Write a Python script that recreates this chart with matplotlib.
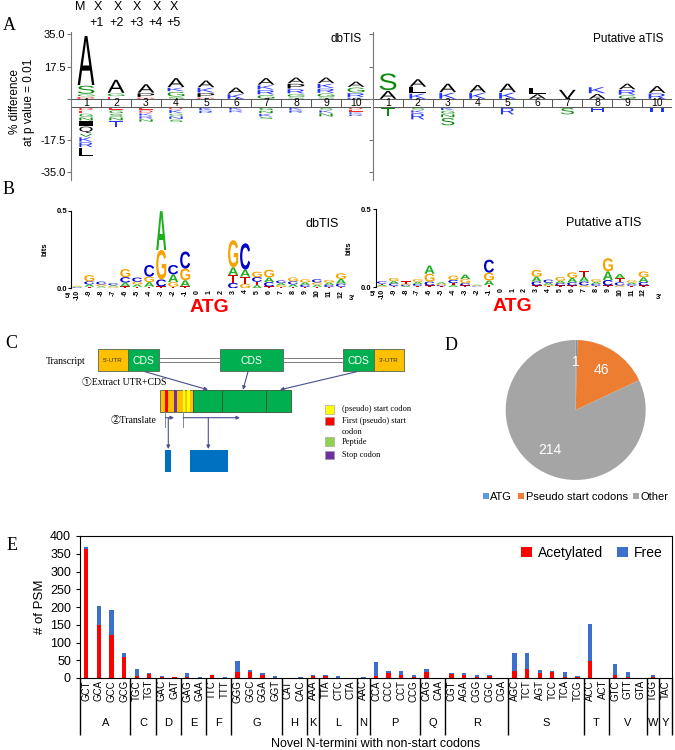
"""Five-panel figure: iceLogo (A), bit logos (B), pipeline sketch (C), pie (D), PSM bars (E)."""
import matplotlib
matplotlib.use("Agg")
import matplotlib.pyplot as plt
import numpy as np
from matplotlib.font_manager import FontProperties
from matplotlib.patches import PathPatch, Rectangle
from matplotlib.textpath import TextPath
from matplotlib.transforms import Affine2D, blended_transform_factory

W, H = 675, 750
plt.rcParams["font.family"] = ["Liberation Sans", "DejaVu Sans"]
SERIF = ["Liberation Serif", "Noto Sans CJK JP", "DejaVu Sans"]

# ---------------- A: % difference per position (bottom->top above, top->bottom below)
AA_COL = {"k": "#000000", "g": "#0a8a0a", "b": "#2233ff", "r": "#ff2a2a"}
DBTIS_UP = [
    [("D", 0.9, "r"), ("G", 1.0, "g"), ("S", 4.3, "g"), ("A", 26.4, "k")],
    [("E", 1.0, "r"), ("G", 1.4, "g"), ("A", 7.0, "k")],
    [("D", 0.6, "r"), ("P", 1.9, "k"), ("A", 4.5, "k")],
    [("S", 0.8, "g"), ("G", 2.5, "g"), ("K", 1.8, "b"), ("A", 4.8, "k")],
    [("D", 0.6, "r"), ("P", 2.0, "k"), ("K", 2.4, "b"), ("A", 3.6, "k")],
    [("K", 2.4, "b"), ("A", 3.2, "k")],
    [("G", 2.0, "g"), ("R", 2.2, "b"), ("K", 2.2, "b"), ("A", 3.5, "k")],
    [("S", 0.6, "g"), ("G", 1.5, "g"), ("R", 2.2, "b"), ("P", 2.5, "k"), ("A", 3.0, "k")],
    [("S", 0.6, "g"), ("G", 1.8, "g"), ("R", 2.2, "b"), ("K", 2.2, "b"), ("A", 3.0, "k")],
    [("K", 0.6, "b"), ("R", 2.0, "b"), ("G", 2.6, "g"), ("A", 2.8, "k")],
]
DBTIS_DOWN = [
    [("D", 1.2, "r"), ("E", 1.2, "r"), ("G", 1.6, "g"), ("N", 1.6, "g"), ("I", 2.5, "k"),
     ("Q", 3.5, "k"), ("V", 1.5, "g"), ("K", 2.3, "b"), ("R", 2.5, "b"), ("L", 4.5, "k")],
    [("E", 1.0, "r"), ("G", 1.5, "g"), ("S", 1.5, "g"), ("N", 1.5, "g"), ("T", 3.0, "b")],
    [("E", 1.0, "r"), ("D", 1.2, "r"), ("K", 1.2, "b"), ("R", 1.2, "b"), ("N", 1.2, "g")],
    [("D", 0.8, "r"), ("K", 1.6, "b"), ("G", 1.0, "g"), ("N", 1.4, "b"), ("S", 1.2, "g")],
    [("K", 1.2, "b"), ("R", 1.2, "b")],
    [("K", 1.0, "b"), ("R", 1.0, "b")],
    [("G", 1.2, "g"), ("N", 1.2, "g"), ("K", 1.4, "b"), ("S", 1.0, "g")],
    [("K", 1.0, "b"), ("R", 1.2, "b")],
    [("S", 1.0, "g"), ("K", 1.2, "b"), ("N", 1.6, "g")],
    [("D", 0.8, "r"), ("E", 0.8, "r"), ("K", 0.8, "b"), ("R", 0.8, "b")],
]
ATIS_UP = [
    [("A", 4.2, "k"), ("S", 9.0, "g")],
    [("K", 2.7, "b"), ("L", 3.0, "k"), ("A", 4.0, "k")],
    [("K", 3.2, "b"), ("A", 4.5, "k")],
    [("K", 3.0, "b"), ("A", 4.0, "k")],
    [("K", 3.2, "b"), ("A", 4.5, "k")],
    [("A", 2.4, "k"), ("L", 3.2, "k")],
    [("V", 4.8, "k")],
    [("A", 2.6, "k"), ("K", 3.2, "b")],
    [("G", 1.8, "g"), ("R", 2.5, "b"), ("A", 3.0, "k")],
    [("R", 2.8, "b"), ("A", 3.6, "k")],
]
ATIS_DOWN = [
    [("T", 4.5, "g")],
    [("S", 1.0, "g"), ("K", 1.2, "b"), ("R", 3.2, "b")],
    [("K", 1.2, "b"), ("G", 1.5, "g"), ("N", 1.5, "g"), ("S", 4.0, "g")],
    [],
    [("R", 3.5, "b")],
    [],
    [("S", 3.5, "g")],
    [("H", 2.0, "b")],
    [],
    [("H", 2.2, "b")],
]

# ---------------- B: information content (bits), bottom->top per position -10..12
NT_COL = {"A": "#1fae1f", "C": "#0000c8", "G": "#f5a300", "T": "#d40000"}
LOGO_POS = list(range(-10, 13))
DBTIS_BITS = [
    [("T", .003), ("C", .004), ("A", .004), ("G", .005)],
    [("T", .010), ("A", .015), ("C", .020), ("G", .040)],
    [("T", .005), ("A", .008), ("G", .012), ("C", .018)],
    [("T", .004), ("G", .008), ("A", .008), ("C", .012)],
    [("T", .012), ("A", .025), ("C", .035), ("G", .052)],
    [("T", .010), ("A", .015), ("G", .017), ("C", .027)],
    [("T", .010), ("A", .030), ("G", .035), ("C", .075)],
    [("T", .012), ("C", .045), ("G", .190), ("A", .250)],
    [("T", .010), ("G", .030), ("A", .050), ("C", .060)],
    [("T", .012), ("A", .040), ("G", .075), ("C", .110)],
    [], [], [],
    [("C", .035), ("T", .050), ("A", .050), ("G", .175)],
    [("G", .030), ("T", .045), ("A", .045), ("C", .170)],
    [("A", .020), ("T", .022), ("C", .030), ("G", .035)],
    [("T", .012), ("C", .028), ("A", .030), ("G", .050)],
    [("T", .008), ("G", .012), ("A", .013), ("C", .017)],
    [("T", .010), ("A", .015), ("C", .020), ("G", .025)],
    [("T", .008), ("C", .015), ("A", .015), ("G", .020)],
    [("T", .010), ("A", .013), ("G", .015), ("C", .020)],
    [("T", .008), ("C", .014), ("A", .015), ("G", .017)],
    [("T", .010), ("C", .020), ("A", .030), ("G", .037)],
]
ATIS_BITS = [
    [("G", .006), ("A", .008), ("T", .008), ("C", .014)],
    [("T", .008), ("C", .015), ("A", .015), ("G", .020)],
    [("A", .006), ("C", .008), ("G", .008), ("T", .014)],
    [("T", .008), ("C", .012), ("A", .013), ("G", .017)],
    [("T", .010), ("C", .025), ("G", .050), ("A", .052)],
    [("T", .005), ("C", .007), ("G", .008), ("A", .010)],
    [("A", .012), ("T", .013), ("C", .020), ("G", .028)],
    [("T", .010), ("C", .015), ("G", .025), ("A", .030)],
    [("T", .003), ("C", .004), ("G", .004), ("A", .004)],
    [("T", .012), ("A", .030), ("G", .050), ("C", .083)],
    [], [], [],
    [("T", .010), ("C", .025), ("A", .030), ("G", .045)],
    [("T", .006), ("G", .008), ("A", .013), ("C", .020)],
    [("T", .010), ("C", .015), ("A", .015), ("G", .024)],
    [("T", .010), ("C", .020), ("A", .028), ("G", .036)],
    [("G", .010), ("C", .025), ("A", .030), ("T", .035)],
    [("T", .008), ("C", .012), ("A", .012), ("G", .018)],
    [("T", .010), ("C", .035), ("A", .055), ("G", .085)],
    [("G", .010), ("C", .020), ("T", .025), ("A", .028)],
    [("T", .008), ("C", .010), ("A", .010), ("G", .015)],
    [("T", .010), ("C", .022), ("A", .030), ("G", .038)],
]

# ---------------- D: pie
PIE_LABELS = ["ATG", "Pseudo start codons", "Other"]
PIE_VALUES = [1, 46, 214]
PIE_COLORS = ["#5b9bd5", "#ed7d31", "#a5a5a5"]

# ---------------- E: PSMs per codon
CODONS = ["GCT", "GCA", "GCC", "GCG", "TGC", "TGT", "GAC", "GAT", "GAG", "GAA", "TTC", "TTT",
          "GGG", "GGC", "GGA", "GGT", "CAT", "CAC", "AAA", "TTA", "CTC", "CTA", "AAC",
          "CCA", "CCC", "CCT", "CCG", "CAG", "CAA", "CGT", "AGA", "CGG", "CGC", "CGA",
          "AGC", "TCT", "AGT", "TCC", "TCA", "TCG", "ACC", "ACT", "GTC", "GTT", "GTA",
          "TGG", "TAC"]
ACETYL = [362, 150, 122, 59, 5, 10, 3, 4, 3, 0, 8, 0, 16, 16, 8, 0, 0, 0, 5, 5, 0, 0, 0,
          5, 15, 8, 4, 16, 0, 10, 8, 4, 7, 0, 20, 24, 14, 16, 2, 3, 47, 0, 8, 2, 0, 4, 0]
FREE = [8, 53, 70, 11, 19, 4, 2, 0, 11, 4, 1, 4, 31, 6, 6, 5, 0, 4, 3, 3, 5, 0, 3,
        41, 6, 13, 4, 9, 0, 5, 6, 5, 1, 0, 50, 46, 8, 3, 14, 2, 104, 0, 32, 14, 0, 4, 0]
AMINO = ["A", "C", "D", "E", "F", "G", "H", "K", "L", "N", "P", "Q", "R", "S", "T", "V", "W", "Y"]
GROUP_SIZES = [4, 2, 2, 2, 2, 4, 2, 1, 3, 1, 4, 2, 5, 6, 2, 3, 1, 1]


def frame(x0, y0, x1, y1):
    """Pixel box (top-left origin) -> figure fraction rect."""
    return [x0 / W, 1 - y1 / H, (x1 - x0) / W, (y1 - y0) / H]


def glyph(ax, ch, x, y, w, h, color, fp):
    if h <= 0:
        return
    tp = TextPath((0, 0), ch, size=1, prop=fp)
    bb = tp.get_extents()
    t = (Affine2D().translate(-bb.x0, -bb.y0)
         .scale(w / bb.width, h / bb.height).translate(x, y))
    ax.add_patch(PathPatch(t.transform_path(tp), fc=color, ec="none", lw=0))


fig = plt.figure(figsize=(W / 100, H / 100), dpi=100)
canvas = fig.add_axes([0, 0, 1, 1])
canvas.set_xlim(0, W)
canvas.set_ylim(H, 0)
canvas.axis("off")

for letter, (px, py) in {"A": (9, 26), "B": (9, 189), "C": (11, 344),
                         "D": (451, 346), "E": (12, 546)}.items():
    canvas.text(px, py, letter, family=SERIF, fontsize=13, ha="center", va="center")

# ---------------- panel A
GAP = 4.3
fpA = FontProperties(family="Liberation Sans")


def plogo(rect, up, down, title, labels):
    ax = fig.add_axes(frame(*rect))
    ax.set_xlim(0.5, 10.5)
    ax.set_ylim(-43.45, 36.4)
    for i in range(10):
        x = i + 1
        ax.add_patch(Rectangle((x - 0.5, -GAP), 1, GAP, fc="white", ec="#555", lw=0.7))
        ax.text(x, -GAP / 2, str(x), ha="center", va="center", fontsize=7.5)
        y = 0.3
        for ch, h, c in up[i]:
            glyph(ax, ch, x - 0.28, y, 0.56, h, AA_COL[c], fpA)
            y += h + 0.4
        y = -GAP - 0.3
        for ch, h, c in down[i]:
            glyph(ax, ch, x - 0.22, y - h, 0.44, h, AA_COL[c], fpA)
            y -= h + 0.4
    ax.set_xticks([])
    ax.set_yticks([35, 17.5, 0, -17.5 - GAP, -35 - GAP])
    ax.set_yticklabels(["35.0", "17.5", "", "-17.5", "-35.0"] if labels else [])
    ax.tick_params(axis="y", length=3, color="#777", labelsize=8, pad=1)
    for s in ("top", "right", "bottom"):
        ax.spines[s].set_visible(False)
    ax.spines["left"].set_color("#777")
    ax.text(0.97, 0.99, title, transform=ax.transAxes, ha="right", va="top", fontsize=8.5)


plogo((71, 31.7, 371, 180), DBTIS_UP, DBTIS_DOWN, "dbTIS", True)
plogo((373, 31.7, 672, 180), ATIS_UP, ATIS_DOWN, "Putative aTIS", False)
canvas.text(22, 102, "% difference\nat p value = 0.01", rotation=90, ha="center",
            va="center", fontsize=8.5, linespacing=1.2)
for xx, top, bot in [(80, "M", ""), (98, "X", "+1"), (118, "X", "+2"), (137, "X", "+3"),
                     (157, "X", "+4"), (174, "X", "+5")]:
    canvas.text(xx, 7, top, ha="center", va="center", fontsize=9)
    canvas.text(xx - 1, 23, bot, ha="center", va="center", fontsize=9)

# ---------------- panel B
fpB = FontProperties(family="Liberation Sans", weight="bold")


def bitlogo(rect, stacks, title, three_x):
    ax = fig.add_axes(frame(*rect))
    ax.set_xlim(-10.5, 12.5)
    ax.set_ylim(0, 0.5)
    for pos, stack in zip(LOGO_POS, stacks):
        y = 0
        for ch, h in stack:
            glyph(ax, ch, pos - 0.42, y, 0.84, h, NT_COL[ch], fpB)
            y += h
    ax.set_xticks(LOGO_POS)
    ax.set_xticklabels([str(p) for p in LOGO_POS], rotation=90, fontsize=5,
                       fontweight="bold")
    ax.tick_params(axis="x", length=0, pad=1)
    ax.set_yticks([0, 0.5])
    ax.set_yticklabels(["0.0", "0.5"], fontsize=5.5, fontweight="bold")
    ax.tick_params(axis="y", length=2, pad=1)
    for s in ("top", "right", "bottom"):
        ax.spines[s].set_visible(False)
    ax.set_ylabel("bits", fontsize=5.5, fontweight="bold", labelpad=6)
    ax.text(0.97, 0.9, title, transform=ax.transAxes, ha="right", va="top", fontsize=9)
    tr = blended_transform_factory(ax.transData, ax.transAxes)
    ax.text(1, -0.245, "ATG", transform=tr, ha="center", va="center", color="#ff0000",
            fontsize=14, fontweight="bold")
    ax.text(-10.55, -0.1, "5'", transform=tr, ha="right", va="center", fontsize=5.5,
            fontweight="bold")
    ax.text(three_x, -0.13, "3'", transform=tr, ha="center", va="center", fontsize=5.5,
            fontweight="bold")


bitlogo((71.3, 210.7, 347, 288.3), DBTIS_BITS, "dbTIS", 12.9)
bitlogo((376, 209, 649.5, 287), ATIS_BITS, "Putative aTIS", 13.3)

# ---------------- panel C (schematic)
ORANGE, GREEN, BLUE, ARROW = "#ffc000", "#00b050", "#0070c0", "#4b4f8c"
TRANSCRIPT = [(97.7, 128.3, ORANGE, "5'-UTR"), (128.3, 159.3, GREEN, "CDS"),
              (220, 283.3, GREEN, "CDS"), (342.7, 374, GREEN, "CDS"),
              (374, 404, ORANGE, "3'-UTR")]
for x0, x1, col, lab in TRANSCRIPT:
    canvas.add_patch(Rectangle((x0, 349.3), x1 - x0, 21.7, fc=col, ec="#556655", lw=0.6))
    big = lab == "CDS"
    canvas.text((x0 + x1) / 2, 360.5, lab, ha="center", va="center",
                color="white" if big else "#333", fontsize=7.5 if big else 4.5)
for x0, x1 in [(159.3, 220), (283.3, 342.7)]:
    canvas.add_patch(Rectangle((x0, 357.6), x1 - x0, 4.6, fc="white", ec="#666", lw=0.6))
canvas.text(46, 361, "Transcript", family=SERIF, fontsize=7, va="center")
canvas.text(82, 382.5, "①Extract UTR+CDS", family=SERIF, fontsize=7, va="center")
canvas.text(111, 420, "②Translate", family=SERIF, fontsize=7, va="center")

arrow = dict(arrowstyle="-|>", color=ARROW, lw=0.8, mutation_scale=5, shrinkA=0, shrinkB=0)
for start, end in [((145, 371.7), (208, 389.8)), ((248, 371.7), (243, 389.8)),
                   ((356.7, 371.7), (280, 389.8))]:
    canvas.annotate("", xy=end, xytext=start, arrowprops=arrow)

canvas.add_patch(Rectangle((160, 390), 33.3, 21.7, fc=ORANGE, ec="#556655", lw=0.6))
for x0, x1 in [(193.3, 221.7), (221.7, 265.7), (265.7, 290.7)]:
    canvas.add_patch(Rectangle((x0, 390), x1 - x0, 21.7, fc=GREEN, ec="#335533", lw=0.6))
for x0, w, col in [(165, 2.7, "#ff0000"), (174, 3.3, "#7030a0"), (182.7, 2.4, "#ffff00"),
                   (187.3, 2.4, "#ffff00")]:
    canvas.add_patch(Rectangle((x0, 390), w, 21.7, fc=col, ec="none"))

thin = dict(color="#8088b0", lw=0.7)
canvas.plot([165, 165], [412, 427], **thin)
canvas.plot([183.3, 183.3], [412, 427], **thin)
canvas.annotate("", xy=(174, 417.7), xytext=(165.5, 417.7), arrowprops=arrow)
canvas.annotate("", xy=(240, 417.7), xytext=(183.3, 417.7), arrowprops=arrow)
canvas.annotate("", xy=(168.3, 449), xytext=(168.3, 418), arrowprops=arrow)
canvas.annotate("", xy=(208.3, 449), xytext=(208.3, 418), arrowprops=arrow)
canvas.add_patch(Rectangle((165, 450), 6, 21.7, fc=BLUE, ec="none"))
canvas.add_patch(Rectangle((190, 450), 38.3, 21.7, fc=BLUE, ec="none"))

for y0, col, lab in [(405, "#ffff00", "(pseudo) start codon"),
                     (416.7, "#ff0000", "First (pseudo) start\ncodon"),
                     (437.3, "#92d050", "Peptide"), (450.7, "#7030a0", "Stop codon")]:
    canvas.add_patch(Rectangle((325, y0), 9, 8.5, fc=col, ec="#999", lw=0.4))
    two = "\n" in lab
    canvas.text(341.5, y0 + (0.3 if two else 4.3), lab, family=SERIF, fontsize=6,
                va="top" if two else "center", linespacing=1.5)

# ---------------- panel D
axD = fig.add_axes(frame(505.7, 340, 645.7, 480))
total = sum(PIE_VALUES)
wedges, _, autotexts = axD.pie(PIE_VALUES, colors=PIE_COLORS, startangle=90,
                               counterclock=False, pctdistance=0.68,
                               autopct=lambda p: f"{p * total / 100:.0f}",
                               textprops=dict(color="white", fontsize=10))
axD.set_xlim(-1, 1)
axD.set_ylim(-1, 1)
axD.legend(wedges, PIE_LABELS, loc="center", bbox_to_anchor=(0.5, -0.12), ncol=3,
           frameon=False, fontsize=8, handlelength=0.55, handleheight=0.55,
           handletextpad=0.15, columnspacing=0.5)

# ---------------- panel E
axE = fig.add_axes(frame(80, 536, 672, 678))
x = np.arange(len(CODONS))
axE.bar(x, ACETYL, width=0.34, color="#ff0000", label="Acetylated")
axE.bar(x, FREE, width=0.34, bottom=ACETYL, color="#3d6fcc", label="Free")
axE.set_xlim(-0.5, len(CODONS) - 0.5)
axE.set_ylim(0, 400)
axE.set_yticks(range(0, 401, 50))
axE.tick_params(axis="y", labelsize=9, length=3)
axE.set_xticks(x)
axE.set_xticklabels(CODONS, rotation=90, fontsize=7)
axE.tick_params(axis="x", length=0, pad=1.5)
axE.set_ylabel("# of PSM", fontsize=9.5, labelpad=3)
axE.legend(loc="upper right", ncol=2, frameon=False, fontsize=10, handlelength=0.8,
           handleheight=0.8, handletextpad=0.4, columnspacing=1.0, borderaxespad=0.3)

tr = axE.get_xaxis_transform()
edges = np.concatenate([[0], np.cumsum(GROUP_SIZES)]) - 0.5
axE.vlines(edges, -0.40, 0, transform=tr, color="black", lw=1.0, clip_on=False)
for aa, lo, hi in zip(AMINO, edges[:-1], edges[1:]):
    axE.text((lo + hi) / 2, -0.315, aa, transform=tr, ha="center", va="center", fontsize=8)
axE.text(0.5, -0.465, "Novel N-termini with non-start codons", transform=axE.transAxes,
         ha="center", va="center", fontsize=9)

fig.savefig("out.png", dpi=100)
